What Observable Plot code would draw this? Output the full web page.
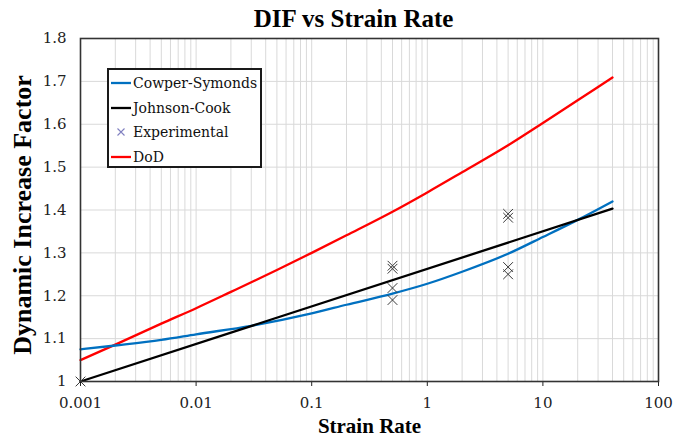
<!DOCTYPE html>
<html>
<head>
<meta charset="utf-8">
<script src="https://cdn.jsdelivr.net/npm/d3@7"></script>
<script src="https://cdn.jsdelivr.net/npm/@observablehq/plot@0.6"></script>
<style>
  html, body { margin: 0; padding: 0; background: #fff; }
  #wrap { position: relative; width: 688px; height: 437px; }
  #legend {
    position: absolute; left: 107px; top: 68px; width: 151px; height: 96px;
    border: 2px solid #1a1a1a; background: #fff; box-sizing: content-box;
    font-family: "DejaVu Serif", serif; font-size: 14px; color: #111;
  }
  #legend .row { position: absolute; left: 2px; height: 24px; display: flex; align-items: center; white-space: nowrap; }
  #legend svg { margin-right: 2px; }
</style>
</head>
<body>
<div id="wrap">
  <div id="chart"></div>
  <div id="legend"></div>
</div>
<script>
// Cowper-Symonds model
const csRate = [0.001, 0.002, 0.005, 0.01, 0.03, 0.1, 0.2, 0.5, 1, 2, 5, 10, 20, 40];
const csDIF  = [1.075, 1.084, 1.097, 1.110, 1.130, 1.159, 1.179, 1.205, 1.228, 1.256, 1.298, 1.337, 1.377, 1.420];

// Johnson-Cook model (linear in log of strain rate)
const jcRate = [0.001, 40];
const jcDIF  = [1.000, 1.403];

// DoD design curve
const dodRate = [0.001, 0.002, 0.005, 0.01, 0.02, 0.05, 0.1, 0.2, 0.5, 1, 2, 5, 10, 20, 40];
const dodDIF  = [1.050, 1.086, 1.135, 1.171, 1.209, 1.260, 1.300, 1.341, 1.396, 1.441, 1.488, 1.551, 1.603, 1.656, 1.709];

// Experimental measurements
const expRate = [0.001, 0.5, 0.5, 0.5, 0.5, 5, 5, 5, 5];
const expDIF  = [1.000, 1.270, 1.263, 1.218, 1.190, 1.391, 1.382, 1.267, 1.250];

// Axis ticks
const xTicks = [0.001, 0.01, 0.1, 1, 10, 100];
const yTicks = [1, 1.1, 1.2, 1.3, 1.4, 1.5, 1.6, 1.7, 1.8];

const seriesNames = ["Cowper-Symonds", "Johnson-Cook", "Experimental", "DoD"];
const seriesColors = ["#0070c0", "#000000", "#8080c0", "#ff0000"];

// Minor log grid: 1..9 times each decade
const xGrid = xTicks.slice(0, -1).flatMap(d => d3.range(1, 10).map(k => +(k * d).toPrecision(3))).concat([100]);

const toRows = (xs, ys) => xs.map((x, i) => ({x, y: ys[i]}));
const cs = toRows(csRate, csDIF);
const jc = toRows(jcRate, jcDIF);
const dod = toRows(dodRate, dodDIF);
const exp = toRows(expRate, expDIF);

const serif = "'Liberation Serif', 'Times New Roman', serif";

const chart = Plot.plot({
  width: 688,
  height: 437,
  marginLeft: 80,
  marginRight: 30,
  marginTop: 38,
  marginBottom: 56,
  style: {fontFamily: "'DejaVu Serif', serif", fontSize: "15px", color: "#222", background: "#fff"},
  x: {type: "log", domain: [0.001, 100]},
  y: {domain: [1, 1.8]},
  marks: [
    Plot.gridX(xGrid, {stroke: "#d9d9d9", strokeOpacity: 1}),
    Plot.gridY(yTicks, {stroke: "#d9d9d9", strokeOpacity: 1}),
    Plot.axisX(xTicks, {tickSize: 5, tickPadding: 11, tickFormat: d => String(d), label: null, fill: "#222"}),
    Plot.axisY(yTicks, {tickSize: 0, tickPadding: 14, tickFormat: d => String(d), label: null}),
    Plot.line(dod, {x: "x", y: "y", stroke: seriesColors[3], strokeWidth: 2.3, curve: "monotone-x"}),
    Plot.line(cs, {x: "x", y: "y", stroke: seriesColors[0], strokeWidth: 2.3, curve: "monotone-x"}),
    Plot.line(jc, {x: "x", y: "y", stroke: seriesColors[1], strokeWidth: 2.3}),
    Plot.dot(exp, {x: "x", y: "y", symbol: "times", r: 4.5, stroke: "#3a3a3a", strokeWidth: 1}),
    Plot.frame({stroke: "#333", strokeWidth: 1.6}),
    Plot.text(["DIF vs Strain Rate"], {frameAnchor: "top", lineAnchor: "middle", dx: -16, dy: -20, fontSize: 25, fontWeight: "bold", fontFamily: serif, fill: "#000"}),
    Plot.text(["Strain Rate"], {frameAnchor: "bottom", lineAnchor: "middle", dy: 45, fontSize: 21, fontWeight: "bold", fontFamily: serif, fill: "#000"}),
    Plot.text(["Dynamic Increase Factor"], {frameAnchor: "left", textAnchor: "middle", lineAnchor: "middle", dx: -58, dy: 5, rotate: -90, fontSize: 26, fontWeight: "bold", fontFamily: serif, fill: "#000"})
  ]
});
document.getElementById("chart").appendChild(chart);

// Legend box
const legend = document.getElementById("legend");
seriesNames.forEach((name, i) => {
  const row = document.createElement("div");
  row.className = "row";
  row.style.top = (1 + i * 24.5) + "px";
  const sw = i === 2
    ? `<svg width="20" height="12"><path d="M6.5,2.5L13.5,9.5M13.5,2.5L6.5,9.5" stroke="${seriesColors[i]}" stroke-width="1.1"/></svg>`
    : `<svg width="20" height="12"><line x1="0" x2="20" y1="6" y2="6" stroke="${seriesColors[i]}" stroke-width="2.3"/></svg>`;
  row.innerHTML = sw + `<span>${name}</span>`;
  legend.appendChild(row);
});
</script>
</body>
</html>
